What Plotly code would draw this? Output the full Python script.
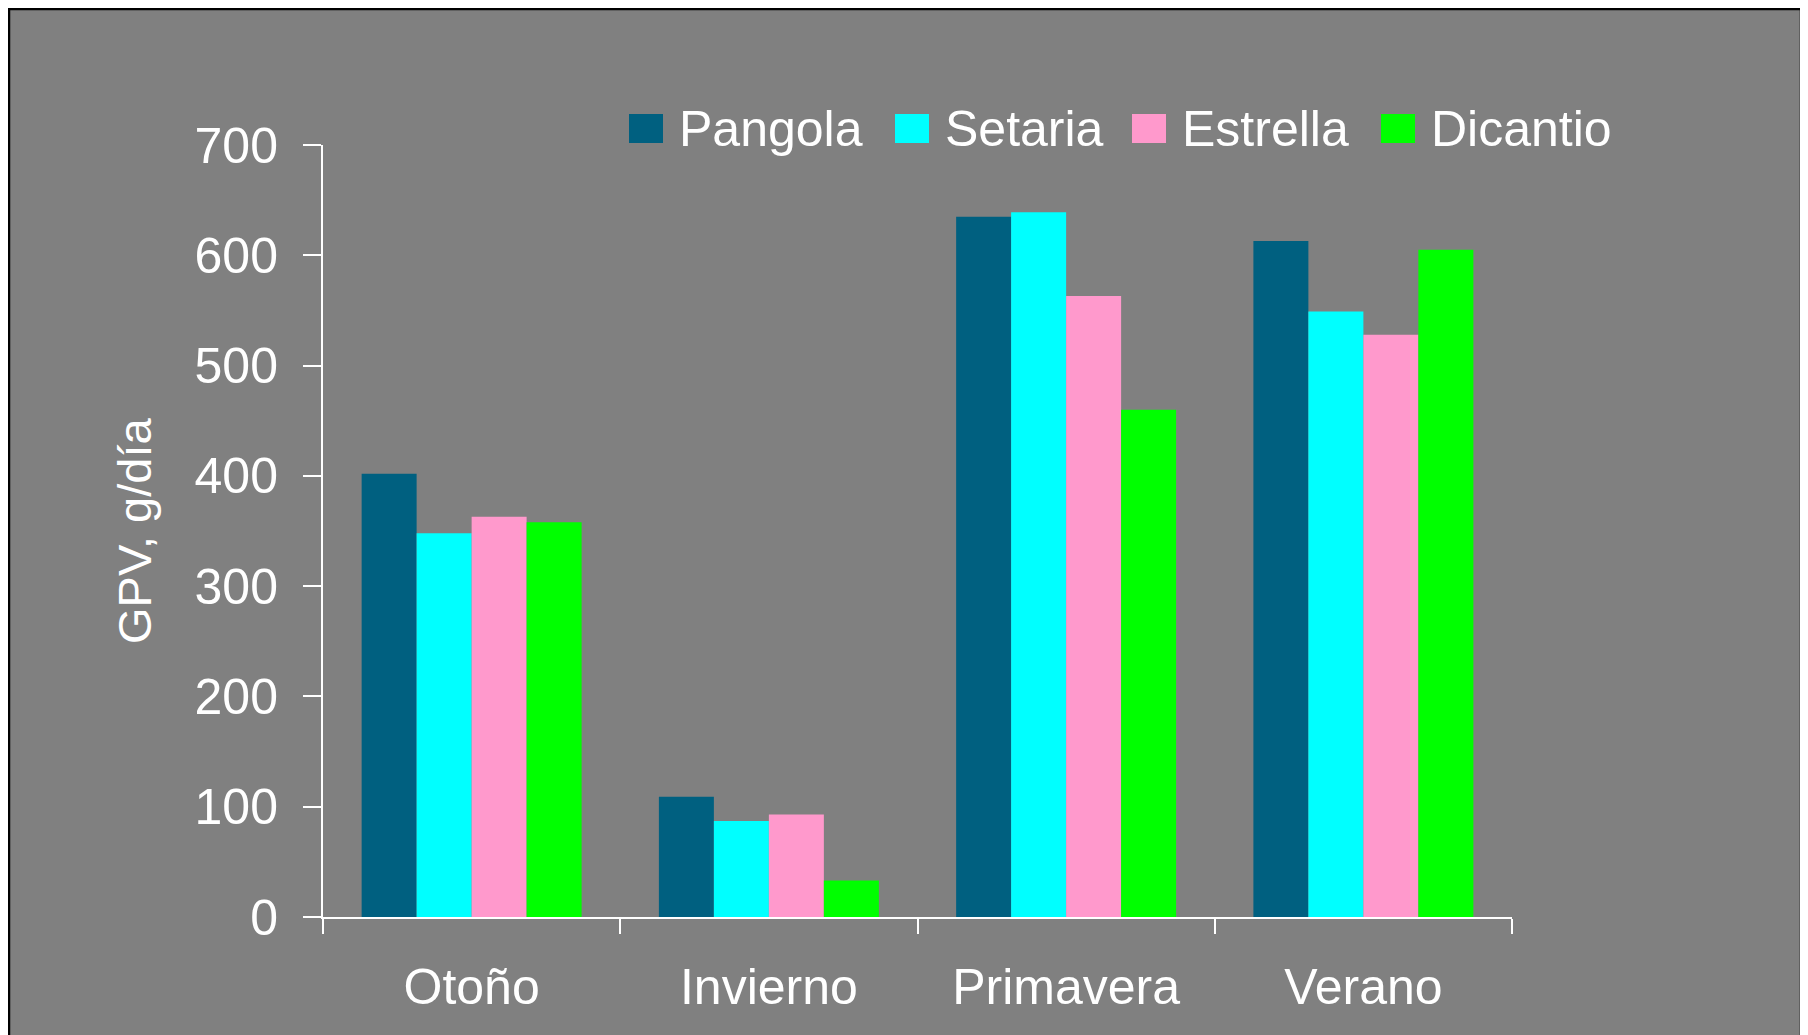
import plotly.graph_objects as go

# estaciones y series (GPV, g/día)
estaciones = ["Otoño", "Invierno", "Primavera", "Verano"]
pangola = [402, 109, 635, 613]
setaria = [348, 87, 639, 549]
estrella = [363, 93, 563, 528]
dicantio = [358, 33, 460, 605]

nombres = ["Pangola", "Setaria", "Estrella", "Dicantio"]
colores = ["#006080", "#00FFFF", "#FF99CC", "#00FF00"]
series = [pangola, setaria, estrella, dicantio]

# la página añade 8px de margen al cuerpo, así que se descuentan aquí
OFF = 8
W, H = 1808, 1035
L, T = 323 - OFF, 145 - OFF
PW, PH = 1189, 772
R, B = W - L - PW, H - T - PH
FONT = "Liberation Sans, Arial, sans-serif"


def px_x(x):
    # x en píxeles de pantalla -> coordenada paper
    return (x - OFF - L) / PW


def px_y(y):
    return (T + PH - (y - OFF)) / PH


fig = go.Figure()
for nombre, color, vals in zip(nombres, colores, series):
    fig.add_trace(go.Bar(x=estaciones, y=vals, name=nombre,
                         marker=dict(color=color, line=dict(width=0)),
                         showlegend=False))

# marco gris con borde negro
shapes = [dict(type="rect", xref="paper", yref="paper", layer="below",
               x0=px_x(9), x1=px_x(1801), y0=px_y(1060), y1=px_y(9),
               fillcolor="#808080", line=dict(color="black", width=2.5))]
annotations = []

# leyenda dibujada a mano (cuadros grandes como en el original)
leg_x = [629, 895, 1132, 1381]
for nombre, color, x in zip(nombres, colores, leg_x):
    shapes.append(dict(type="rect", xref="paper", yref="paper",
                       x0=px_x(x), x1=px_x(x + 34), y0=px_y(143), y1=px_y(114),
                       fillcolor=color, line=dict(width=0)))
    annotations.append(dict(xref="paper", yref="paper", x=px_x(x + 48), y=px_y(129),
                            text=nombre, showarrow=False, xanchor="left", yanchor="middle",
                            font=dict(family=FONT, size=50, color="white")))

annotations.append(dict(xref="paper", yref="paper", x=px_x(134), y=0.5,
                        text="GPV, g/día", textangle=-90, showarrow=False,
                        xanchor="center", yanchor="middle",
                        font=dict(family=FONT, size=47, color="white")))

fig.update_layout(
    width=W, height=H,
    margin=dict(l=L, r=R, t=T, b=B),
    paper_bgcolor="white",
    plot_bgcolor="rgba(0,0,0,0)",
    barmode="group", bargap=0.26, bargroupgap=0,
    font=dict(family=FONT, size=50, color="white"),
    shapes=shapes, annotations=annotations,
    xaxis=dict(showline=True, linecolor="white", linewidth=2,
               ticks="outside", tickson="boundaries", ticklen=15, tickwidth=2,
               tickcolor="white", showgrid=False, ticklabelstandoff=25,
               tickfont=dict(family=FONT, size=50, color="white")),
    yaxis=dict(range=[0, 700], dtick=100, showline=True, linecolor="white", linewidth=2,
               ticks="outside", ticklen=18, tickwidth=2, tickcolor="white",
               showgrid=False, zeroline=False, ticklabelstandoff=15,
               tickfont=dict(family=FONT, size=50, color="white")),
)

fig.write_html("out.html")
